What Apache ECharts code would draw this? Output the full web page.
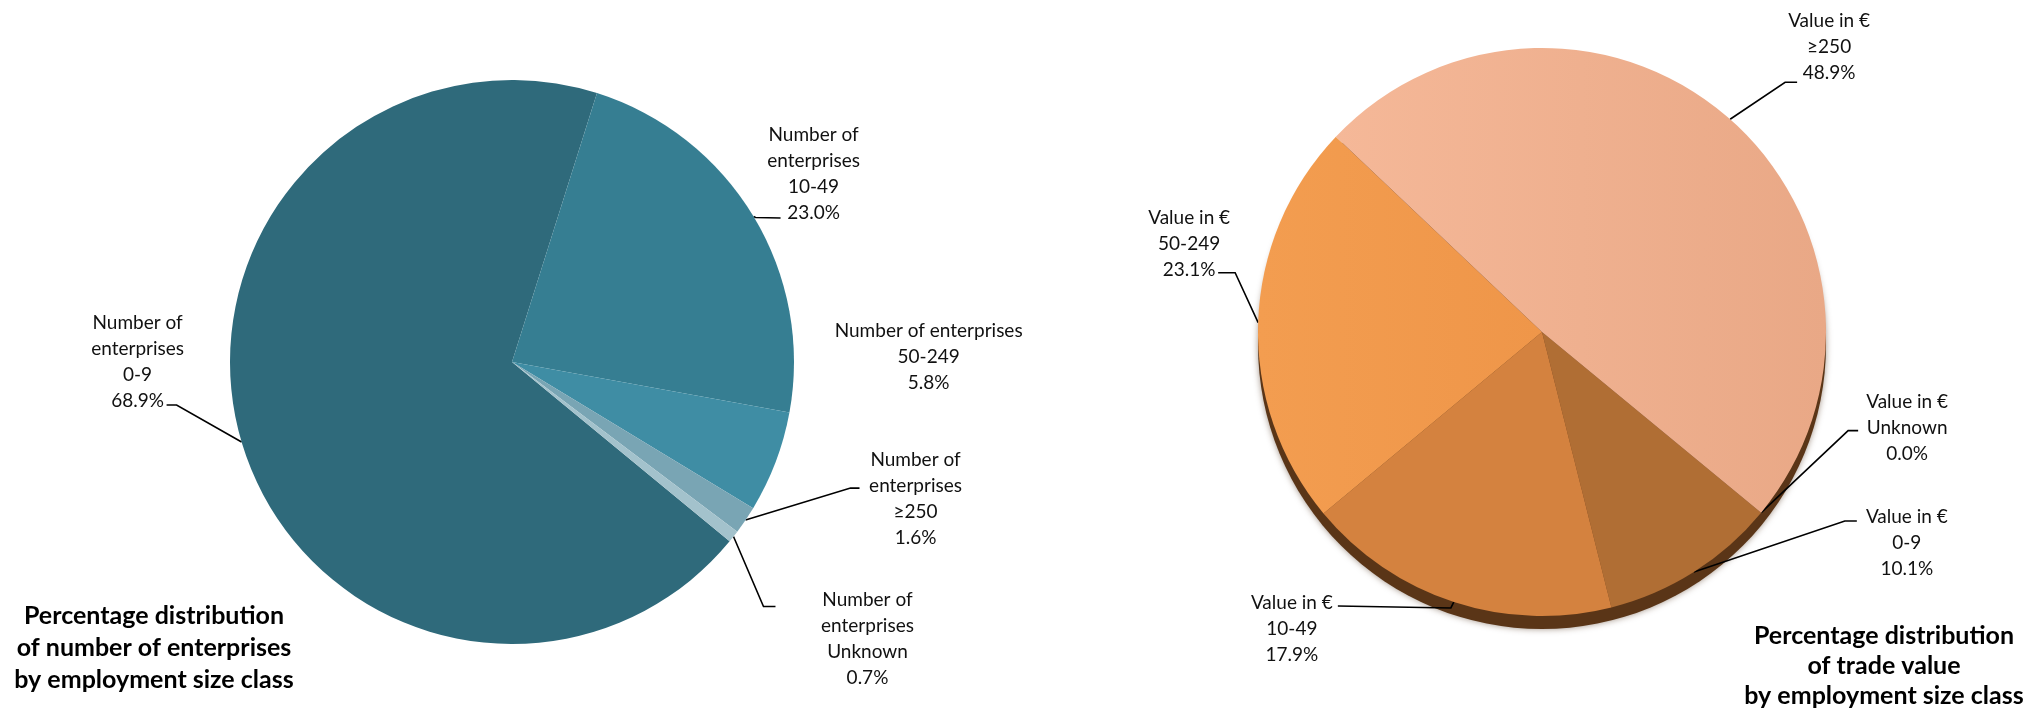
<!DOCTYPE html>
<html>
<head>
<meta charset="utf-8">
<script src="https://cdn.jsdelivr.net/npm/echarts@6/dist/echarts.min.js"></script>
<style>
html,body{margin:0;padding:0;background:#ffffff;}
#chart{width:2029px;height:714px;}
</style>
</head>
<body>
<div id="chart"></div>
<script>
// ---- data ----
const categories = ['0-9', '10-49', '50-249', '\u2265250', 'Unknown'];
const enterpriseShare = [68.9, 23.0, 5.8, 1.6, 0.7];
const tradeValueShare = [10.1, 17.9, 23.1, 48.9, 0.0];
const enterprisePrefix = ['Number of\nenterprises', 'Number of\nenterprises', 'Number of enterprises', 'Number of\nenterprises', 'Number of\nenterprises'];
const tradePrefix = ['Value in \u20ac', 'Value in \u20ac', 'Value in \u20ac', 'Value in \u20ac', 'Value in \u20ac'];
const leftTitle = 'Percentage distribution\nof number of enterprises\nby employment size class';
const rightTitle = 'Percentage distribution\nof trade value\nby employment size class';

// ---- styles ----
const FONT = 'Lato, "Open Sans", sans-serif';
const leftColors = ['#2f6a7b', '#367e92', '#3f8da4', '#79a5b4', '#a3c2cc'];
const rightColors = [
  '#b06e34',
  '#d4823f',
  {type: 'linear', x: 0, y: 0, x2: 1, y2: 0, colorStops: [{offset: 0, color: '#f39d50'}, {offset: 1, color: '#ef9649'}]},
  {type: 'linear', x: 0, y: 0, x2: 1, y2: 0, colorStops: [{offset: 0, color: '#f5b898'}, {offset: 1, color: '#e9a886'}]},
  '#c9c9c9'
];
// label placement, relative to the slice-edge anchor computed by ECharts:
// [elbowDx, elbowDy, endDx, endDy, textCenterDx, textTopDy, showLine]
const leftLabelPlacement = [
  [-65, -37, -75, -37, -104, -132, 1],
  [2, 1, 27, 1.5, 60, -95, 1],
  [0, 0, 0, 0, 153, -144, 0],
  [105, -32, 114, -32, 170, -73, 1],
  [30, 70, 42, 70, 134, 50, 1]
];
const rightLabelPlacement = [
  [151, -51, 163, -51, 213, -68, 1],
  [-3, 6, -116, 4, -162, -12, 1],
  [-23, -50, -40, -50, -69, -118, 1],
  [55, -37, 67, -37, 99, -111, 1],
  [87, -82, 97, -82, 146, -124, 1]
];

function makeLabelLayout(placement) {
  return function (params) {
    const pts = params.labelLinePoints;
    const p = placement[params.dataIndex];
    if (!pts) return {};
    const a = pts[0];
    const line = p[6]
      ? [[a[0], a[1]], [a[0] + p[0], a[1] + p[1]], [a[0] + p[2], a[1] + p[3]]]
      : [[a[0], a[1]], [a[0], a[1]], [a[0], a[1]]];
    return {
      x: a[0] + p[4],
      y: a[1] + p[5],
      align: 'center',
      verticalAlign: 'top',
      labelLinePoints: line
    };
  };
}

function buildData(values, prefixes, colors) {
  return values.map(function (v, i) {
    return {
      name: categories[i],
      value: v,
      label: {formatter: prefixes[i] + '\n' + categories[i] + '\n' + v.toFixed(1) + '%'},
      itemStyle: {color: colors[i]}
    };
  });
}

const labelBase = {
  show: true,
  position: 'outside',
  color: '#111111',
  fontFamily: FONT,
  fontSize: 19,
  lineHeight: 26
};
const lineBase = {show: true, smooth: false, length: 10, length2: 10, lineStyle: {color: '#000000', width: 1.6}};

const chart = echarts.init(document.getElementById('chart'), null, {renderer: 'canvas'});
chart.setOption({
  animation: false,
  backgroundColor: '#ffffff',
  title: [
    {
      text: leftTitle, left: 154, top: 600, textAlign: 'center', padding: 0,
      textStyle: {fontFamily: FONT, fontSize: 25, fontWeight: 'bold', lineHeight: 32, color: '#000000'}
    },
    {
      text: rightTitle, left: 1884, top: 621, textAlign: 'center', padding: 0,
      textStyle: {fontFamily: FONT, fontSize: 25, fontWeight: 'bold', lineHeight: 30, color: '#000000'}
    }
  ],
  series: [
    {
      type: 'pie',
      name: 'Number of enterprises',
      center: [512, 362],
      radius: 282,
      startAngle: -39.5,
      clockwise: true,
      avoidLabelOverlap: false,
      silent: true,
      label: labelBase,
      labelLine: lineBase,
      labelLayout: makeLabelLayout(leftLabelPlacement),
      itemStyle: {borderWidth: 0},
      data: buildData(enterpriseShare, enterprisePrefix, leftColors)
    },
    {
      type: 'pie',
      name: 'pie-edge',
      center: [1542, 345],
      radius: 284,
      silent: true,
      z: 1,
      label: {show: false},
      labelLine: {show: false},
      itemStyle: {color: '#5a3517', shadowBlur: 6, shadowColor: 'rgba(70,40,15,0.5)'},
      data: [{name: '', value: 1}]
    },
    {
      type: 'pie',
      name: 'Value in \u20ac',
      center: [1542, 332],
      radius: 284,
      startAngle: -39.5,
      clockwise: true,
      z: 2,
      avoidLabelOverlap: false,
      silent: true,
      label: labelBase,
      labelLine: lineBase,
      labelLayout: makeLabelLayout(rightLabelPlacement),
      itemStyle: {borderWidth: 0},
      data: buildData(tradeValueShare, tradePrefix, rightColors)
    }
  ]
});
</script>
</body>
</html>
